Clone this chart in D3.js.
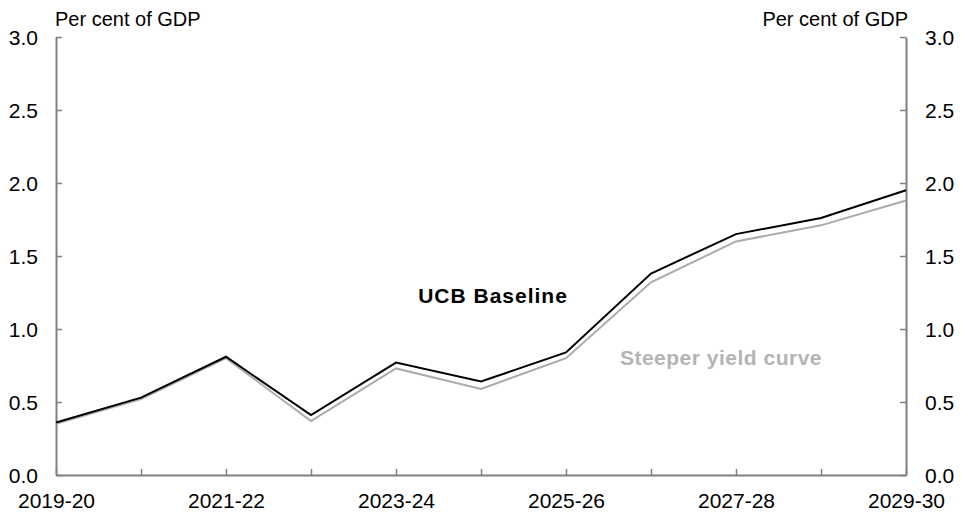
<!DOCTYPE html>
<html><head><meta charset="utf-8">
<script src="https://cdn.jsdelivr.net/npm/d3@7"></script>
<style>body{margin:0;background:#fff}svg{display:block}text{font-family:"Liberation Sans",Arial,sans-serif}</style>
</head><body><svg id="c" width="962" height="513"></svg>
<script>
const categories = ["2019-20","2020-21","2021-22","2022-23","2023-24","2024-25","2025-26","2026-27","2027-28","2028-29","2029-30"];
const tickLabels = ["2019-20","2021-22","2023-24","2025-26","2027-28","2029-30"];
const baseline = [0.36,0.53,0.81,0.41,0.77,0.64,0.84,1.38,1.65,1.76,1.95];
const steeper  = [0.35,0.52,0.80,0.37,0.73,0.59,0.80,1.32,1.60,1.71,1.88];
const yTicks = [0,0.5,1,1.5,2,2.5,3];

const svg = d3.select("#c");
const L = 56, R = 906, T = 37, B = 475;
const x = d3.scalePoint().domain(categories).range([L,R]);
const y = d3.scaleLinear().domain([0,3]).range([B,T]);
const axisCol = "#808080";
const fs = 21;

// x axis
const xa = svg.append("g").attr("transform",`translate(0,${B})`)
  .call(d3.axisBottom(x).tickSize(-6).tickSizeOuter(0).tickFormat(d=>tickLabels.includes(d)?d:""));
xa.select(".domain").attr("stroke",axisCol).attr("stroke-width",2);
xa.selectAll(".tick line").attr("stroke",axisCol).attr("stroke-width",1.5);
xa.selectAll(".tick text").attr("font-size",fs).attr("fill","#000").attr("dy",0).attr("y",33);

// left axis
const ya = svg.append("g").attr("transform",`translate(${L},0)`)
  .call(d3.axisLeft(y).tickValues(yTicks).tickSize(-6).tickSizeOuter(0).tickFormat(d3.format(".1f")));
ya.select(".domain").attr("stroke",axisCol).attr("stroke-width",2);
ya.selectAll(".tick line").attr("stroke",axisCol).attr("stroke-width",1.5);
ya.selectAll(".tick text").attr("font-size",fs).attr("fill","#000").attr("x",-18).attr("dy","0.35em");

// right axis
const ra = svg.append("g").attr("transform",`translate(${R},0)`)
  .call(d3.axisRight(y).tickValues(yTicks).tickSize(-6).tickSizeOuter(0).tickFormat(d3.format(".1f")));
ra.select(".domain").attr("stroke",axisCol).attr("stroke-width",2);
ra.selectAll(".tick line").attr("stroke",axisCol).attr("stroke-width",1.5);
ra.selectAll(".tick text").attr("font-size",fs).attr("fill","#000").attr("x",19).attr("dy","0.35em");

// unit labels
svg.append("text").attr("x",55).attr("y",26).attr("font-size",20).text("Per cent of GDP");
svg.append("text").attr("x",908).attr("y",26).attr("font-size",20).attr("text-anchor","end").text("Per cent of GDP");

const line = d3.line().x((d,i)=>x(categories[i])).y(d=>y(d));
svg.append("path").datum(steeper).attr("d",line).attr("fill","none").attr("stroke","#ababab").attr("stroke-width",2);
svg.append("path").datum(baseline).attr("d",line).attr("fill","none").attr("stroke","#000").attr("stroke-width",2);

svg.append("text").attr("x",493).attr("y",303).attr("text-anchor","middle").attr("font-size",21).attr("font-weight","bold").attr("letter-spacing",1).text("UCB Baseline");
svg.append("text").attr("x",721).attr("y",365).attr("text-anchor","middle").attr("font-size",21).attr("font-weight","bold").attr("fill","#b4b4b4").attr("letter-spacing",0.5).text("Steeper yield curve");
</script></body></html>
